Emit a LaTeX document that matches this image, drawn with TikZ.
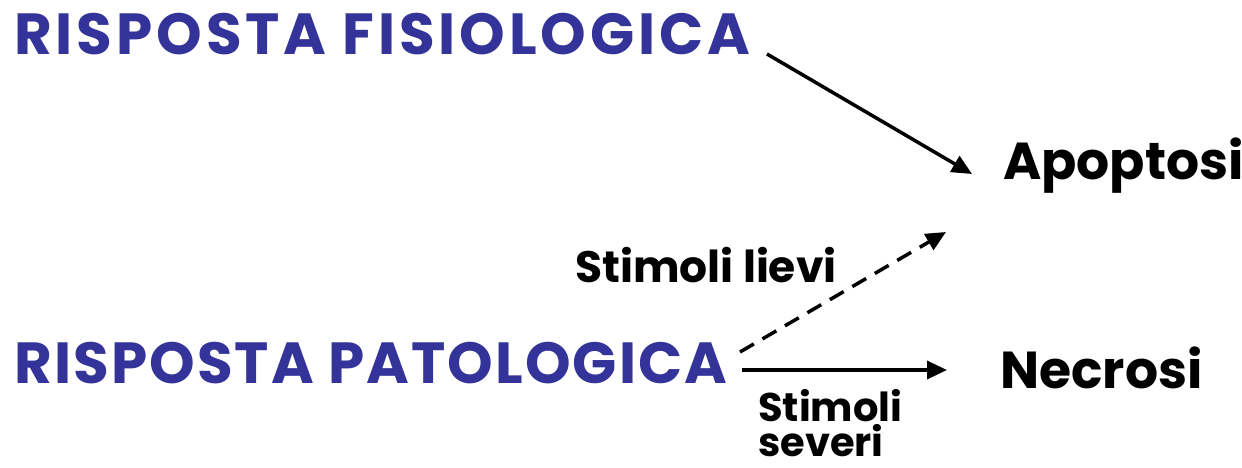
\documentclass[tikz,border=0pt]{standalone}
\usepackage{fontspec}
\setmainfont{Poppins}
\newfontfamily\fisfont[LetterSpace=6.7]{Poppins}
\newfontfamily\patfont[LetterSpace=3.6]{Poppins}
\usetikzlibrary{arrows.meta}
\definecolor{titleblue}{HTML}{333399}
\begin{document}
\begin{tikzpicture}[x=1pt,y=-1pt,
  title/.style={anchor=base west,inner sep=0pt,text=titleblue},
  outcome/.style={anchor=base west,inner sep=0pt,font=\fontsize{52}{60}\selectfont\bfseries},
  lab/.style={anchor=base west,inner sep=0pt,font=\fontsize{44}{48}\selectfont\bfseries},
  arr/.style={line width=3.5pt,-{Triangle[length=20pt,width=18pt]}}]
\useasboundingbox (0,0) rectangle (1242,468);
\node[title,font=\fisfont\fontsize{58}{60}\selectfont\bfseries] (fis) at (14,55) {RISPOSTA FISIOLOGICA};
\node[title,font=\patfont\fontsize{58}{60}\selectfont\bfseries] (pat) at (14,383) {RISPOSTA PATOLOGICA};
\node[outcome] (apo) at (1003,179) {Apoptosi};
\node[outcome] (nec) at (1000,388) {Necrosi};
\node[lab] (lie) at (575,282) {Stimoli lievi};
\node[lab,font=\fontsize{40}{44}\selectfont\bfseries] (sev1) at (758,421) {Stimoli};
\node[lab,font=\fontsize{40}{44}\selectfont\bfseries] (sev2) at (758,456) {severi};
\coordinate (a1) at (767,54);
\coordinate (a2) at (972,174);
\coordinate (b1) at (740,352);
\coordinate (b2) at (946,232);
\coordinate (c1) at (742,370);
\coordinate (c2) at (947,370);
\draw[arr] (a1) -- (a2);
\draw[arr,dash pattern=on 16pt off 10pt] (b1) -- (b2);
\draw[arr] (c1) -- (c2);
\end{tikzpicture}
\end{document}
